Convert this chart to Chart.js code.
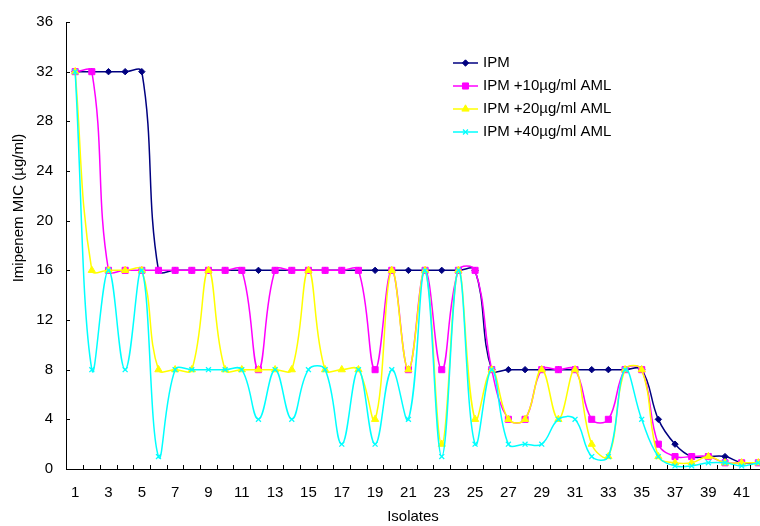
<!DOCTYPE html>
<html>
<head>
<meta charset="utf-8">
<script src="https://cdn.jsdelivr.net/npm/chart.js@4/dist/chart.umd.min.js"></script>
<style>
html,body{margin:0;padding:0;background:#fff;overflow:hidden}
#wrap{width:760px;height:526px;position:relative}
</style>
</head>
<body>
<div id="wrap"><canvas id="c" width="760" height="526"></canvas></div>
<script>
// ---- data ----
const isolates = [1,2,3,4,5,6,7,8,9,10,11,12,13,14,15,16,17,18,19,20,21,22,23,24,25,26,27,28,29,30,31,32,33,34,35,36,37,38,39,40,41,42];
const xTickLabels = [1,3,5,7,9,11,13,15,17,19,21,23,25,27,29,31,33,35,37,39,41];
const yTickLabels = [0,4,8,12,16,20,24,28,32,36];
const seriesNames = ['IPM', 'IPM +10\u00b5g/ml AML', 'IPM +20\u00b5g/ml AML', 'IPM +40\u00b5g/ml AML'];
const xTitle = 'Isolates';
const yTitle = 'Imipenem MIC (\u00b5g/ml)';

const ipm    = [32,32,32,32,32,16,16,16,16,16,16,16,16,16,16,16,16,16,16,16,16,16,16,16,16,8,8,8,8,8,8,8,8,8,8,4,2,1,1,1,0.5,0.5];
const ipm10  = [32,32,16,16,16,16,16,16,16,16,16,8,16,16,16,16,16,16,8,16,8,16,8,16,16,8,4,4,8,8,8,4,4,8,8,2,1,1,1,0.5,0.5,0.5];
const ipm20  = [32,16,16,16,16,8,8,8,16,8,8,8,8,8,16,8,8,8,4,16,8,16,2,16,4,8,4,4,8,4,8,2,1,8,8,1,0.5,0.5,1,0.5,0.5,0.5];
const ipm40  = [32,8,16,8,16,1,8,8,8,8,8,4,8,4,8,8,2,8,2,8,4,16,1,16,2,8,2,2,2,4,4,1,1,8,4,1,0.25,0.25,0.5,0.5,0.25,0.5];

const colors = ['#000080', '#FF00FF', '#FFFF00', '#00FFFF'];
const styles = ['rectRot', 'rect', 'triangle', 'crossRot'];
const radii = [3.2, 4.3, 4.2, 3.5];
const values = [ipm, ipm10, ipm20, ipm40];
const FONT = '"Liberation Sans", Arial, sans-serif';

const datasets = values.map((v, i) => ({
  label: seriesNames[i],
  data: v,
  borderColor: colors[i],
  backgroundColor: colors[i],
  pointBackgroundColor: colors[i],
  pointBorderColor: colors[i],
  pointStyle: styles[i],
  pointRadius: radii[i],
  pointBorderWidth: i === 3 ? 1.3 : 1,
  borderWidth: 1.5,
  tension: 0.4,
  order: 4 - i,
  clip: 6
}));

const decor = {
  id: 'decor',
  afterDraw(chart) {
    const {ctx, chartArea: a, scales: {x, y}} = chart;
    ctx.save();
    ctx.strokeStyle = '#000';
    ctx.lineWidth = 1;
    ctx.beginPath();
    isolates.forEach(v => {
      const px = Math.round(x.getPixelForValue(v + 0.5)) + 0.5;
      if (px > a.right) return;
      ctx.moveTo(px, a.bottom);
      ctx.lineTo(px, a.bottom - 4);
    });
    yTickLabels.forEach(v => {
      const py = Math.round(y.getPixelForValue(v)) + 0.5;
      ctx.moveTo(a.left, py);
      ctx.lineTo(a.left + 4, py);
    });
    ctx.stroke();

    // y title
    ctx.save();
    ctx.translate(19, 208);
    ctx.rotate(-Math.PI / 2);
    ctx.font = '15px ' + FONT;
    ctx.fillStyle = '#000';
    ctx.textAlign = 'center';
    ctx.textBaseline = 'middle';
    ctx.fillText(yTitle, 0, 0);
    ctx.restore();

    // legend
    const lx0 = 453, lx1 = 478, mx = 465.5, tx = 483;
    chart.data.datasets.forEach((ds, i) => {
      const yy = 63 + i * 23;
      ctx.strokeStyle = ds.borderColor;
      ctx.lineWidth = 1.5;
      ctx.beginPath();
      ctx.moveTo(lx0, yy);
      ctx.lineTo(lx1, yy);
      ctx.stroke();
      if (Chart.helpers && Chart.helpers.drawPoint) {
        ctx.fillStyle = ds.pointBackgroundColor;
        ctx.strokeStyle = ds.pointBorderColor;
        ctx.lineWidth = ds.pointBorderWidth;
        Chart.helpers.drawPoint(ctx, {pointStyle: ds.pointStyle, radius: ds.pointRadius, rotation: 0, borderWidth: ds.pointBorderWidth}, mx, yy);
      }
      ctx.fillStyle = '#000';
      ctx.font = '15px ' + FONT;
      ctx.textAlign = 'left';
      ctx.textBaseline = 'middle';
      ctx.fillText(ds.label, tx, yy);
    });
    ctx.restore();
  }
};

new Chart(document.getElementById('c'), {
  type: 'line',
  data: { labels: isolates, datasets },
  options: {
    responsive: false,
    animation: false,
    devicePixelRatio: 1,
    layout: { autoPadding: false, padding: { top: 19, right: 0, left: 0, bottom: 0 } },
    plugins: { legend: { display: false }, tooltip: { enabled: false } },
    scales: {
      x: {
        type: 'linear',
        min: 0.45,
        max: 42.1,
        bounds: 'data',
        afterBuildTicks: s => { s.ticks = xTickLabels.map(v => ({ value: v })); },
        afterFit: s => { s.height = 57; s.paddingLeft = 0; s.paddingRight = 0; },
        grid: { display: false, drawTicks: false },
        border: { display: true, color: '#000', width: 1 },
        ticks: { autoSkip: false, maxRotation: 0, padding: 15, color: '#000', font: { family: FONT, size: 15 } },
        title: { display: true, text: xTitle, color: '#000', font: { family: FONT, size: 15 }, padding: { top: 0, bottom: 0 } }
      },
      y: {
        min: 0,
        max: 36,
        afterBuildTicks: s => { s.ticks = yTickLabels.map(v => ({ value: v })); },
        afterFit: s => { s.width = 66; },
        grid: { display: false, drawTicks: false },
        border: { display: true, color: '#000', width: 1 },
        ticks: { padding: 13, color: '#000', font: { family: FONT, size: 15 } }
      }
    }
  },
  plugins: [decor]
});
</script>
</body>
</html>
